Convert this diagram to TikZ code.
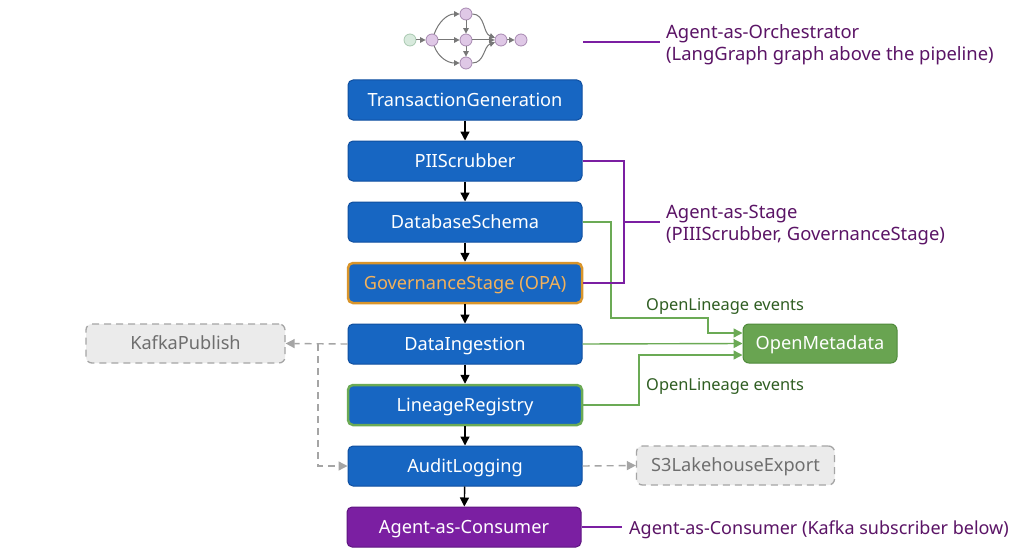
\documentclass[tikz,border=0pt]{standalone}
\usepackage{fontspec}
\setmainfont{Noto Sans}
\usetikzlibrary{arrows.meta}
\definecolor{boxblue}{HTML}{1766C2}
\definecolor{boxblueb}{HTML}{0F4FA0}
\definecolor{govor}{HTML}{D9952B}
\definecolor{govtxt}{HTML}{F2B15B}
\definecolor{lingreen}{HTML}{6BAA55}
\definecolor{omfill}{HTML}{69A451}
\definecolor{ombord}{HTML}{4F8A3B}
\definecolor{ppl}{HTML}{7B1FA2}
\definecolor{pplb}{HTML}{5E1580}
\definecolor{ppltxt}{HTML}{5B1466}
\definecolor{grntxt}{HTML}{2F5E22}
\definecolor{gfill}{HTML}{EBEBEB}
\definecolor{gbord}{HTML}{A5A5A5}
\definecolor{gtxt}{HTML}{6E6E6E}
\definecolor{nodefill}{HTML}{DFC8E6}
\definecolor{nodebord}{HTML}{A88AB2}
\definecolor{startfill}{HTML}{D8EADD}
\definecolor{startbord}{HTML}{A9C9B1}
\definecolor{edgegray}{HTML}{777777}
\begin{document}
\begin{tikzpicture}[x=1pt,y=-1pt,
  font=\fontsize{18.2}{22}\selectfont,
  boxtext/.style={text height=12.9pt, text depth=0pt},
  pipe/.style={boxtext, draw=boxblueb, fill=boxblue, text=white, rounded corners=5pt,
    minimum width=234pt, minimum height=40pt, line width=1pt, inner sep=0pt},
  ghost/.style={boxtext, draw=gbord, fill=gfill, text=gtxt, dash pattern=on 7pt off 5pt, line width=1.3pt,
    rounded corners=6pt, minimum height=39pt, inner sep=0pt},
  omstyle/.style={boxtext, draw=ombord, fill=omfill, text=white, line width=1pt,
    rounded corners=6pt, minimum width=154pt, minimum height=39pt, inner sep=0pt},
  flow/.style={draw=black, line width=1.4pt, -{Triangle[length=9pt,width=9pt]}},
  gdash/.style={draw=gbord, line width=1.4pt, dash pattern=on 7pt off 5pt, -{Triangle[length=9pt,width=9pt]}},
  lin/.style={draw=lingreen, line width=1.4pt, -{Triangle[length=9pt,width=9pt]}},
  stg/.style={draw=ppl, line width=1.4pt},
  plbl/.style={text=ppltxt, align=left, inner sep=6pt, font=\fontsize{18.4}{22}\selectfont},
  glbl/.style={text=grntxt, inner sep=2pt, font=\fontsize{16.4}{19}\selectfont},
  gnode/.style={circle, draw=nodebord, fill=nodefill, line width=0.8pt, minimum size=12pt, inner sep=0pt},
  snode/.style={circle, draw=startbord, fill=startfill, line width=0.8pt, minimum size=12pt, inner sep=0pt},
  garr/.style={draw=edgegray, line width=1pt, -{Triangle[length=5.5pt,width=5.5pt]}}
]
\useasboundingbox[fill=white] (0,0) rectangle (1024,559);

% top LangGraph graph
\node[snode] (n0) at (410,40) {};
\node[gnode] (n1) at (432,40) {};
\node[gnode] (n2) at (466,14) {};
\node[gnode] (n3) at (466,40) {};
\node[gnode] (n4) at (466,63) {};
\node[gnode] (n5) at (501,40) {};
\node[gnode] (n6) at (521,40) {};
\draw[garr] (n0) -- (n1);
\draw[garr] (n1) to[out=70,in=180] (n2);
\draw[garr] (n1) -- (n3);
\draw[garr] (n1) to[out=-70,in=180] (n4);
\draw[garr] (n2) -- (n3);
\draw[garr] (n3) -- (n4);
\draw[garr] (n2) to[out=0,in=160] (n5);
\draw[garr] (n3) -- (n5);
\draw[garr] (n4) to[out=0,in=200] (n5);
\draw[garr] (n5) -- (n6);

% pipeline
\node[pipe] (tg) at (465,100) {TransactionGeneration};
\node[pipe] (pii) at (465,161) {PIIScrubber};
\node[pipe] (db) at (465,222) {DatabaseSchema};
\node[pipe, draw=govor, line width=2.5pt, text=govtxt] (gov) at (465,283) {GovernanceStage (OPA)};
\node[pipe] (di) at (465,344) {DataIngestion};
\node[pipe, draw=lingreen, line width=2.5pt] (lr) at (465,405) {LineageRegistry};
\node[pipe] (al) at (465,466) {AuditLogging};
\node[pipe, fill=ppl, draw=pplb] (ac) at (464,527) {Agent-as-Consumer};

\draw[flow] (tg) -- (pii);
\draw[flow] (pii) -- (db);
\draw[flow] (db) -- (gov);
\draw[flow] (gov) -- (di);
\draw[flow] (di) -- (lr);
\draw[flow] (lr) -- (al);
\draw[flow] (al) -- (ac);

% side boxes
\node[ghost, minimum width=199pt] (kp) at (185.5,343.5) {KafkaPublish};
\node[ghost, minimum width=198pt] (s3) at (735.5,465.5) {S3LakehouseExport};
\node[omstyle] (om) at (820,343.5) {OpenMetadata};

% dashed gray
\coordinate (kb) at (318,344);
\draw[gdash] (di.west) -- (kp.east);
\draw[gdash] (kb) |- (al.west);
\draw[gdash] (al.east) -- (s3.west);

% green lineage
\coordinate (g1a) at (611,318);
\coordinate (g1b) at (708,333);
\coordinate (g3a) at (639,355);
\draw[lin] (db.east) -| (g1a) -| (g1b) -- (om.west |- g1b);
\draw[lin] (di.east) -- (om.west);
\draw[lin] (lr.east) -| (g3a) -- (om.west |- g3a);
\node[glbl, anchor=west] (ol1) at (644,306) {OpenLineage events};
\node[glbl, anchor=west] (ol2) at (644,386) {OpenLineage events};

% purple annotations
\coordinate (sb) at (624,222);
\draw[stg] (pii.east) -| (sb) |- (gov.east);
\node[plbl, anchor=west] (stl) at (660,225) {Agent-as-Stage\\(PIIIScrubber, GovernanceStage)};
\draw[stg] (sb) -- (stl.west |- sb);

\coordinate (oc) at (583,42);
\node[plbl, anchor=west] (orl) at (660,45) {Agent-as-Orchestrator\\(LangGraph graph above the pipeline)};
\draw[stg] (oc) -- (orl.west |- oc);

\node[plbl, anchor=west, inner sep=7pt, font=\fontsize{18}{22}\selectfont] (acl) at (622,529.5) {Agent-as-Consumer (Kafka subscriber below)};
\draw[stg] (ac.east) -- (acl.west |- ac.east);
\end{tikzpicture}
\end{document}
